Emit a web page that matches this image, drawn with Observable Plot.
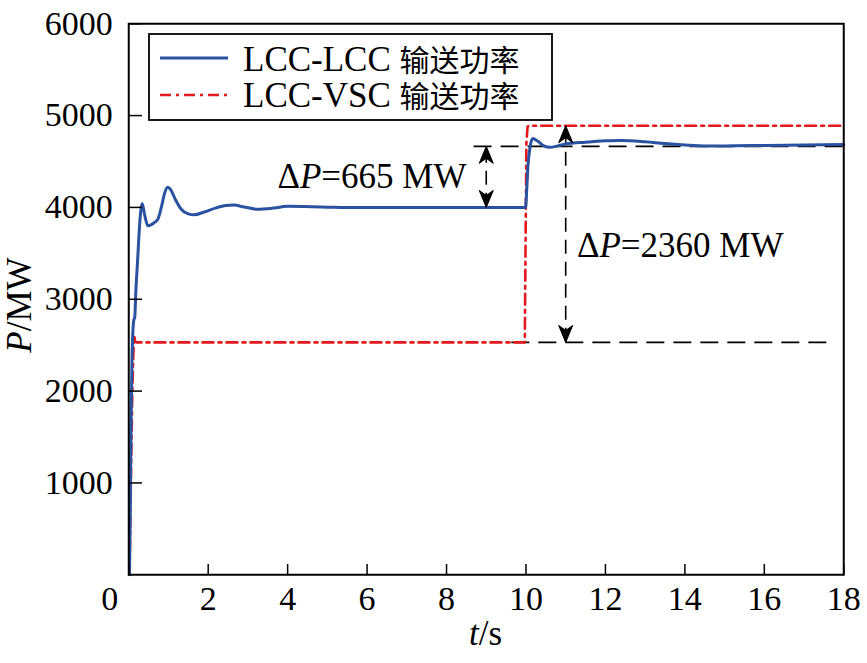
<!DOCTYPE html>
<html lang="en">
<head>
<meta charset="utf-8">
<script src="https://cdn.jsdelivr.net/npm/d3@7"></script>
<script src="https://cdn.jsdelivr.net/npm/@observablehq/plot@0.6"></script>
<style>
  html, body { margin: 0; padding: 0; background: #fff; }
  #chart svg { display: block; }
</style>
</head>
<body>
<div id="chart"></div>
<script>
// ---- data ----
const lccT = [0.02, 0.04, 0.06, 0.08, 0.11, 0.13, 0.15, 0.18, 0.22, 0.28, 0.34, 0.4, 0.48, 0.56, 0.63, 0.73, 0.82, 0.9, 0.98, 1.06, 1.18, 1.32, 1.5, 1.65, 1.9, 2.2, 2.45, 2.65, 2.9, 3.25, 3.6, 4.0, 4.4, 5.0, 5.5, 6.0, 7.0, 8.0, 9.0, 9.99,
              10.02, 10.05, 10.1, 10.17, 10.3, 10.45, 10.6, 10.8, 11.0, 11.5, 12.0, 12.4, 13.0, 13.5, 14.0, 14.5, 15.0, 16.0, 17.0, 18.0];
const lccP = [0, 800, 1700, 2300, 2700, 2780, 2800, 3100, 3400, 3850, 4040, 3920, 3800, 3810, 3830, 3870, 4000, 4150, 4220, 4190, 4080, 3980, 3930, 3920, 3950, 3995, 4020, 4025, 4005, 3980, 3990, 4012, 4010, 4003, 3998, 4000, 4000, 4000, 4000, 4000,
              4200, 4450, 4650, 4750, 4720, 4670, 4655, 4670, 4690, 4710, 4725, 4730, 4715, 4695, 4680, 4670, 4670, 4675, 4680, 4685];

const vscT = [0.02, 0.06, 0.09, 0.12, 0.14, 0.16, 0.2, 9.97, 9.99, 10.01, 10.04, 10.08, 18.0];
const vscP = [0, 1200, 2000, 2450, 2600, 2540, 2530, 2530, 3600, 4700, 4880, 4890, 4890];

const seriesLatin = ["LCC-LCC ", "LCC-VSC "];
const seriesCJK = ["输送功率", "输送功率"];
const seriesColors = ["#2a52a0", "#e2191e"];

const xTicks = [0, 2, 4, 6, 8, 10, 12, 14, 16, 18];
const yTicks = [1000, 2000, 3000, 4000, 5000, 6000];

// annotation values
const dP1 = 665, dP1Base = 4000, dP1T = 9.0;          // ΔP=665 MW
const dP2 = 2360, dP2Base = 2530, dP2T = 11.0;        // ΔP=2360 MW
const refLines = [
  {y: dP1Base + dP1, t1: 8.7, t2: 18.0},
  {y: dP2Base, t1: 9.65, t2: 17.8}
];
const arrows = [
  {t: dP1T, lo: dP1Base, hi: dP1Base + dP1},
  {t: dP2T, lo: dP2Base, hi: dP2Base + dP2}
];
const heads = arrows.flatMap(a => [{t: a.t, p: a.hi, rot: 0}, {t: a.t, p: a.lo, rot: 180}]);

const lcc = lccT.map((t, i) => ({t, p: lccP[i]}));
const vsc = vscT.map((t, i) => ({t, p: vscP[i]}));

// The SVG is drawn in a 1/K coordinate system and scaled up by K via its viewBox.
const K = 1.5;
const W = 867, H = 663;
const u = v => v / K;

// notched arrowhead symbol: tip at origin, body below
const arrowHead = {
  draw(ctx) {
    ctx.moveTo(0, 0);
    ctx.lineTo(u(7), u(17));
    ctx.lineTo(0, u(12));
    ctx.lineTo(u(-7), u(17));
    ctx.closePath();
  }
};

const FONT = "Liberation Serif";
const CJK = "Noto Sans CJK SC";
const FS = u(34);

const chart = Plot.plot({
  width: u(W),
  height: u(H),
  marginLeft: u(128),
  marginRight: u(24),
  marginTop: u(23),
  marginBottom: u(89),
  style: {fontFamily: FONT, fontSize: FS + "px", color: "#000", background: "#fff"},
  x: {domain: [0, 18], label: null},
  y: {domain: [0, 6000], label: null},
  marks: [
    Plot.ruleY(refLines, {y: "y", x1: "t1", x2: "t2", stroke: "#000", strokeWidth: u(1.6), strokeDasharray: `${u(18)},${u(9)}`}),
    Plot.ruleX(arrows, {x: "t", y1: "lo", y2: "hi", stroke: "#000", strokeWidth: u(1.6), strokeDasharray: `${u(14)},${u(8)}`}),
    Plot.line(vsc, {x: "t", y: "p", stroke: seriesColors[1], strokeWidth: u(2.6), strokeDasharray: [11, 5, 3, 5].map(u).join(",")}),
    Plot.line(lcc, {x: "t", y: "p", stroke: seriesColors[0], strokeWidth: u(3), curve: "monotone-x"}),
    Plot.dot(heads, {x: "t", y: "p", symbol: arrowHead, rotate: "rot", fill: "#000", stroke: "#000", strokeWidth: u(1)}),
    Plot.axisX(xTicks, {tickSize: u(-10), tickPadding: u(21), strokeWidth: u(1.5), fontFamily: FONT, fontSize: FS, fontVariant: "normal", tickFormat: d => d === 0 ? "" : String(d)}),
    Plot.text([0], {x: d => d, frameAnchor: "bottom", dy: u(11), dx: u(-19), lineAnchor: "top", fontFamily: FONT, fontSize: FS, text: d => String(d)}),
    Plot.axisY(yTicks, {tickSize: u(-14), tickPadding: u(30), strokeWidth: u(1.5), fontFamily: FONT, fontSize: FS, fontVariant: "normal", tickFormat: d => String(d)}),
    Plot.frame({stroke: "#000", strokeWidth: u(2)})
  ]
});

chart.setAttribute("width", W);
chart.setAttribute("height", H);
chart.style.width = W + "px";
chart.style.height = H + "px";
chart.style.maxWidth = "none";
document.getElementById("chart").appendChild(chart);

// ---- text overlays (axis titles with italic letters, annotations, legend) ----
const svg = d3.select(chart);
const xs = chart.scale("x"), ys = chart.scale("y");

function richText(g, parts, attrs) {
  const t = g.append("text").attr("font-family", FONT).attr("font-size", u(35)).attr("fill", "#000");
  for (const [k, v] of Object.entries(attrs)) t.attr(k, v);
  for (const [s, italic] of parts) {
    t.append("tspan").text(s).attr("font-style", italic ? "italic" : null);
  }
  return t;
}

richText(svg, [["P", true], ["/MW", false]], {
  transform: `translate(${u(31)},${u(305)}) rotate(-90)`, "text-anchor": "middle"
});
richText(svg, [["t", true], ["/s", false]], {
  x: (xs.apply(0) + xs.apply(18)) / 2, y: u(645), "text-anchor": "middle"
});

richText(svg, [["Δ", false], ["P", true], ["=" + dP1 + " MW", false]], {
  x: xs.apply(dP1T) - u(19), y: ys.apply(dP1Base + dP1 / 2) + u(12), "text-anchor": "end"
});
richText(svg, [["Δ", false], ["P", true], ["=" + dP2 + " MW", false]], {
  x: xs.apply(dP2T) + u(12), y: ys.apply(dP2Base + dP2 / 2) + u(24), "text-anchor": "start"
});

// legend
const lg = svg.append("g");
lg.append("rect").attr("x", u(149)).attr("y", u(34)).attr("width", u(403)).attr("height", u(86))
  .attr("fill", "#fff").attr("stroke", "#000").attr("stroke-width", u(1.8));
const rows = [
  {y: 58, base: 71, dash: null, w: 3},
  {y: 95, base: 107, dash: [11, 5, 3, 5].map(u).join(","), w: 2.6}
];
rows.forEach((r, i) => {
  lg.append("line").attr("x1", u(160)).attr("x2", u(228)).attr("y1", u(r.y)).attr("y2", u(r.y))
    .attr("stroke", seriesColors[i]).attr("stroke-width", u(r.w)).attr("stroke-dasharray", r.dash);
  const t = lg.append("text").attr("x", u(243)).attr("y", u(r.base)).attr("text-anchor", "start")
    .attr("font-family", FONT).attr("font-size", u(35)).attr("fill", "#000");
  t.append("tspan").text(seriesLatin[i]);
  t.append("tspan").attr("class", "cjk").attr("font-family", CJK).attr("font-size", u(30)).text(seriesCJK[i]);
});

// force the intended families with inline !important declarations
chart.querySelectorAll("text, tspan").forEach(el => {
  const fam = el.classList.contains("cjk") ? `"${CJK}"` : `"${FONT}"`;
  el.style.setProperty("font-family", fam, "important");
});
</script>
</body>
</html>
